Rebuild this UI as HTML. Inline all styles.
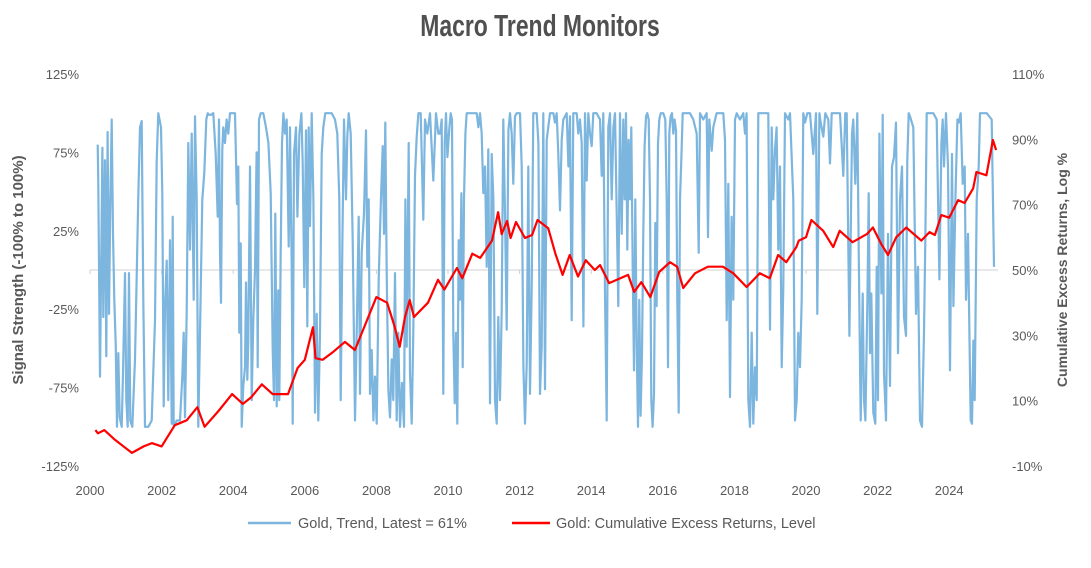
<!DOCTYPE html>
<html><head><meta charset="utf-8"><style>
body{margin:0;background:#fff;}
svg text{font-family:"Liberation Sans",sans-serif;fill:#595959;}
</style></head><body>
<svg id="chart" width="1091" height="563" viewBox="0 0 1091 563">
<rect x="0" y="0" width="1091" height="563" fill="#fff"/>
<text x="540" y="36" text-anchor="middle" font-size="31" font-weight="bold" transform="translate(540 0) scale(0.74 1) translate(-540 0)" style="font-family:'Liberation Sans Narrow','Liberation Sans',sans-serif;fill:#505050">Macro Trend Monitors</text>
<g id="axes"></g>
<g id="series"></g>
<text transform="translate(23 270) rotate(-90)" text-anchor="middle" font-size="15" font-weight="bold">Signal Strength (-100% to 100%)</text>
<text transform="translate(1067 270) rotate(-90)" text-anchor="middle" font-size="14" font-weight="bold">Cumulative Excess Returns, Log %</text>
<g>
<g>
<line x1="248" y1="523" x2="291" y2="523" stroke="#7cb5de" stroke-width="2.5"/>
<text x="298" y="528" font-size="14.5">Gold, Trend, Latest = 61%</text></g>
<g>
<line x1="512" y1="523" x2="550" y2="523" stroke="#ff0000" stroke-width="2.5"/>
<text x="556" y="528" font-size="14.5">Gold: Cumulative Excess Returns, Level</text></g>
</g>
</svg>
<script>
const leftTicks=[125,75,25,-25,-75,-125];
const rightTicks=[110,90,70,50,30,10,-10];
const yearTicks=[2000,2002,2004,2006,2008,2010,2012,2014,2016,2018,2020,2022,2024];
const trendDates=[
2000.214,2000.233,2000.279,2000.307,2000.345,2000.372,2000.419,2000.456,2000.493,2000.531,2000.568,2000.605,2000.642,2000.68,2000.717,2000.754,2000.791,2000.829,2000.885,2000.922,2000.978,2001.015,2001.052,2001.089,2001.127,2001.182,2001.257,2001.304,2001.35,2001.397,2001.443,2001.49,2001.536,2001.629,2001.723,2001.816,2001.862,2001.909,2001.983,2002.02,2002.058,2002.095,2002.142,2002.188,2002.235,2002.281,2002.309,2002.337,2002.421,2002.514,2002.579,2002.616,2002.654,2002.7,2002.747,2002.793,2002.84,2002.896,2002.933,2002.98,2003.026,2003.073,2003.138,2003.194,2003.25,2003.287,2003.324,2003.38,2003.445,2003.51,2003.566,2003.603,2003.631,2003.659,2003.696,2003.724,2003.771,2003.817,2003.864,2003.911,2003.957,2004.05,2004.106,2004.143,2004.171,2004.209,2004.237,2004.283,2004.33,2004.358,2004.395,2004.423,2004.469,2004.516,2004.562,2004.609,2004.655,2004.683,2004.721,2004.767,2004.842,
2004.917,2004.982,2005.047,2005.103,2005.14,2005.177,2005.215,2005.261,2005.289,2005.326,2005.364,2005.401,2005.447,2005.494,2005.55,2005.587,2005.634,2005.662,2005.699,2005.755,2005.792,2005.848,2005.904,2005.941,2005.987,2006.034,2006.071,2006.108,2006.146,2006.192,2006.239,2006.285,2006.332,2006.378,2006.425,2006.471,2006.518,2006.574,2006.658,2006.751,2006.844,2006.909,2006.965,2007.002,2007.049,2007.095,2007.151,2007.188,2007.226,2007.281,2007.337,2007.403,2007.449,2007.505,2007.542,2007.589,2007.654,2007.71,2007.747,2007.784,2007.822,2007.868,2007.915,2007.961,2008.008,2008.064,2008.12,2008.175,2008.213,2008.25,2008.287,2008.334,2008.38,2008.427,2008.473,2008.52,2008.567,2008.613,2008.66,2008.716,2008.771,2008.809,2008.846,2008.902,2008.939,2008.986,2009.032,2009.079,2009.125,2009.172,2009.237,2009.311,2009.358,2009.423,2009.497,2009.59,2009.665,2009.73,
2009.777,2009.824,2009.87,2009.907,2009.945,2009.982,2010.038,2010.075,2010.112,2010.149,2010.187,2010.224,2010.261,2010.298,2010.336,2010.373,2010.41,2010.447,2010.485,2010.522,2010.615,2010.708,2010.801,2010.848,2010.894,2010.941,2010.987,2011.034,2011.081,2011.127,2011.174,2011.22,2011.267,2011.313,2011.36,2011.406,2011.453,2011.5,2011.546,2011.593,2011.639,2011.686,2011.732,2011.779,2011.825,2011.872,2011.919,2012.012,2012.058,2012.105,2012.151,2012.198,2012.244,2012.291,2012.338,2012.384,2012.477,2012.524,2012.57,2012.617,2012.663,2012.71,2012.757,2012.85,2012.943,2012.989,2013.036,2013.082,2013.129,2013.175,2013.222,2013.315,2013.362,2013.408,2013.455,2013.501,2013.594,2013.641,2013.688,2013.734,2013.781,2013.827,2013.874,2013.92,2013.967,2014.014,2014.06,2014.153,2014.246,2014.293,2014.339,2014.386,2014.432,2014.479,2014.526,2014.572,2014.619,2014.665,2014.758,2014.805,
2014.851,2014.897,2014.934,2014.972,2015.009,2015.046,2015.083,2015.121,2015.158,2015.195,2015.232,2015.27,2015.307,2015.344,2015.381,2015.419,2015.456,2015.493,2015.53,2015.568,2015.605,2015.642,2015.679,2015.716,2015.754,2015.791,2015.828,2015.866,2015.903,2015.94,2016.014,2016.07,2016.108,2016.145,2016.182,2016.219,2016.257,2016.294,2016.331,2016.368,2016.405,2016.443,2016.48,2016.517,2016.555,2016.666,2016.759,2016.853,2016.946,2017.002,2017.039,2017.132,2017.225,2017.262,2017.299,2017.365,2017.411,2017.504,2017.597,2017.691,2017.737,2017.784,2017.83,2017.877,2017.923,2017.97,2018.016,2018.063,2018.156,2018.249,2018.296,2018.342,2018.389,2018.435,2018.482,2018.529,2018.575,2018.622,2018.668,2018.761,2018.854,2018.948,2018.994,2019.041,2019.087,2019.134,2019.18,2019.227,2019.273,2019.32,2019.367,2019.413,2019.506,2019.553,2019.646,2019.693,2019.739,2019.786,2019.832,2019.879,2019.925,2019.972,2020.037,2020.111,
2020.205,2020.28,2020.317,2020.373,2020.41,2020.484,2020.54,2020.624,2020.671,2020.717,2020.764,2020.857,2020.95,2021.043,2021.099,2021.136,2021.211,2021.285,2021.322,2021.378,2021.434,2021.471,2021.527,2021.583,2021.62,2021.658,2021.714,2021.751,2021.788,2021.825,2021.881,2021.937,2021.974,2022.012,2022.049,2022.105,2022.142,2022.179,2022.235,2022.291,2022.347,2022.403,2022.458,2022.514,2022.57,2022.626,2022.682,2022.738,2022.794,2022.831,2022.868,2022.905,2022.998,2023.073,2023.129,2023.185,2023.24,2023.296,2023.334,2023.371,2023.427,2023.557,2023.65,2023.725,2023.781,2023.818,2023.855,2023.911,2023.967,2024.023,2024.079,2024.116,2024.172,2024.228,2024.265,2024.321,2024.377,2024.433,2024.47,2024.526,2024.563,2024.6,2024.637,2024.675,2024.712,2024.768,2024.824,2024.861,2024.917,2025.047,2025.187,2025.252,2025.308];
const trendValues=[
80,55,-68,-8,78,-30,70,-55,88,-28,42,96,23,-19,-47,-100,-53,-94,-100,-66,-2,-83,-100,-2,-96,-100,-57,-4,47,91,95,-19,-100,-100,-96,-32,70,100,91,49,-87,-23,6,-83,19,-98,34,-100,-96,-96,-68,-40,-94,-26,81,13,87,-19,98,45,-100,-40,45,62,96,100,99,99,100,74,34,96,11,-21,77,91,81,96,87,100,100,100,42,66,-40,17,-100,-74,-62,-8,-70,-45,66,-83,-32,0,75,-62,96,100,100,
91,81,49,-51,-83,36,-87,-13,-83,11,81,100,87,96,15,91,2,-98,74,91,34,87,100,68,-11,89,-36,91,28,100,45,-91,-28,-96,-40,74,91,100,100,100,96,87,45,-83,19,96,45,85,100,87,19,-96,-40,34,-79,11,36,89,2,45,-79,-51,-96,-68,-98,-6,40,79,23,94,-2,-77,-94,-57,-83,-2,-96,-40,-100,-72,-100,45,-49,81,-66,-98,-40,60,85,100,100,32,96,87,100,57,100,87,
87,96,-79,81,100,72,91,100,96,-40,-85,-40,-98,19,-19,49,-62,45,87,100,100,100,100,91,100,87,49,66,2,77,-85,74,45,-83,-98,-30,-83,-26,96,36,-38,89,100,87,55,98,100,100,66,-62,-98,-60,66,-79,-11,100,100,81,-79,-49,100,-76,83,100,100,94,100,74,38,83,96,100,66,98,-32,100,100,87,96,81,-36,100,57,100,87,79,100,100,96,60,100,-15,-96,91,100,45,91,100,-23,100,
23,96,45,100,13,83,45,91,2,-64,45,-49,-100,-19,-93,-53,23,79,98,100,96,45,-83,-100,-79,30,-23,81,96,100,100,96,45,-62,87,98,100,87,96,89,-19,-91,45,70,100,100,100,96,87,11,100,96,100,21,96,76,91,100,100,100,83,-32,55,-81,34,-19,96,100,96,100,87,100,-83,-100,-40,-98,-62,-83,100,100,100,100,-38,91,45,77,91,13,66,-62,-11,100,96,100,45,-96,-83,-40,-62,-19,100,94,100,
100,74,100,-28,100,94,85,100,96,68,100,100,100,100,60,100,100,-42,87,96,55,100,13,-96,-15,-83,-96,-19,49,-53,-15,-91,-98,2,-83,87,-15,99,-66,-96,23,-74,66,72,94,-53,45,66,-30,-42,70,100,98,91,-28,2,-96,-100,-40,23,100,100,100,96,-6,81,96,66,100,66,-64,74,-23,45,96,94,100,55,66,-19,23,-40,-96,-98,-45,-83,45,66,100,100,100,96,2];
const retDates=[2000.15,2000.22,2000.4,2000.7,2001.17,2001.5,2001.73,2002.0,2002.37,2002.7,2003.0,2003.2,2003.6,2003.97,2004.27,2004.5,2004.8,2005.1,2005.53,2005.8,2006.0,2006.23,2006.3,2006.5,2006.8,2007.12,2007.4,2007.74,2008.0,2008.3,2008.5,2008.65,2008.8,2008.93,2009.05,2009.44,2009.72,2009.9,2010.25,2010.4,2010.68,2010.9,2011.23,2011.4,2011.5,2011.65,2011.75,2011.9,2012.15,2012.35,2012.5,2012.8,2013.0,2013.2,2013.4,2013.63,2013.85,2014.1,2014.25,2014.5,2015.03,2015.2,2015.4,2015.65,2015.9,2016.2,2016.4,2016.57,2016.9,2017.26,2017.68,2017.97,2018.34,2018.71,2018.99,2019.22,2019.45,2019.73,2019.8,2020.0,2020.15,2020.48,2020.76,2020.94,2021.3,2021.7,2021.87,2022.1,2022.29,2022.52,2022.8,2023.22,2023.45,2023.6,2023.78,2024.0,2024.25,2024.43,2024.67,2024.76,2025.04,2025.22,2025.31];
const retValues=[1,0,1,-2,-6,-4,-3,-4,2.5,4,8,2,7,12,9,11,15,12,12,20,22.5,32.5,23,22.5,25,28,25.5,34.7,41.7,40,33,26.5,35.6,40.8,35.6,40,47,44,50.6,47.5,55,53.7,59,67.7,61,65,59.8,64.7,59.8,60.7,65.3,62.8,55,48.5,54.6,48,53,50,51.5,46,48.5,43.3,46.3,41.7,49.4,52.4,51,44.5,49,51,51,49,44.8,49,47.5,54.6,52.4,57,59,60,65.3,62,57,62,58.5,61,63,58,54.6,60,63,59,61.6,60.7,66.8,66,71.4,70.5,75,80,79,89.8,86.7];
const NS='http://www.w3.org/2000/svg';
const X0=90,PX_YR=35.8,YT=74,YB=466;
const xOf=t=>X0+(t-2000)*PX_YR;
const yL=v=>YT+(125-v)/250*(YB-YT);
const yR=v=>YT+(110-v)/120*(YB-YT);
const axes=document.getElementById('axes'),series=document.getElementById('series');
function mk(tag,attrs,parent){const e=document.createElementNS(NS,tag);for(const k in attrs)e.setAttribute(k,attrs[k]);parent.appendChild(e);return e;}
leftTicks.forEach(v=>{const t=mk('text',{x:79,y:yL(v)+5,'text-anchor':'end','font-size':13},axes);t.textContent=v+'%';

});
rightTicks.forEach(v=>{const t=mk('text',{x:1012,y:yR(v)+5,'font-size':13},axes);t.textContent=v+'%';

});
yearTicks.forEach(y=>{const t=mk('text',{x:xOf(y),y:495,'text-anchor':'middle','font-size':13},axes);t.textContent=y;


const tk=mk('line',{x1:xOf(y),x2:xOf(y),y1:yL(0),y2:yL(0)+4,stroke:'#d0d0d0','stroke-width':1},axes);

});
const zl=mk('line',{x1:X0,x2:998,y1:yL(0),y2:yL(0),stroke:'#d0d0d0','stroke-width':1},axes);


const bp=mk('polyline',{points:trendDates.map((t,i)=>xOf(t).toFixed(1)+','+yL(trendValues[i]).toFixed(1)).join(' '),fill:'none',stroke:'#7cb5de','stroke-width':2.2,'stroke-linejoin':'round'},series);


const rp=mk('polyline',{points:retDates.map((t,i)=>xOf(t).toFixed(1)+','+yR(retValues[i]).toFixed(1)).join(' '),fill:'none',stroke:'#ff0000','stroke-width':2.2,'stroke-linejoin':'round'},series);


</script>
</body></html>
